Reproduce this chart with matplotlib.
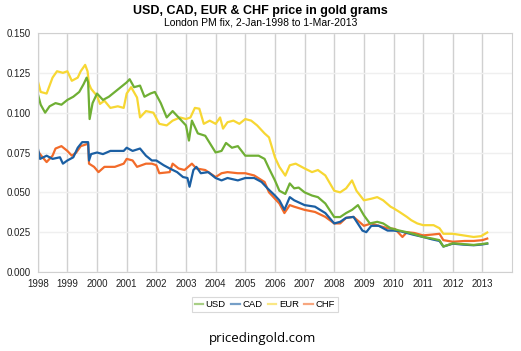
import matplotlib.pyplot as plt

plt.rcParams['font.family'] = ['Liberation Sans', 'DejaVu Sans']

# values (decimal year, grams of gold per unit)
usd_years = [1998.00, 1998.10, 1998.25, 1998.40, 1998.60, 1998.80, 1999.00, 1999.20, 1999.40, 1999.55,
             1999.65, 1999.70, 1999.75, 1999.85, 2000.00, 2000.20, 2000.40, 2000.60, 2000.80, 2001.00,
             2001.10, 2001.25, 2001.45, 2001.60, 2001.80, 2001.95, 2002.15, 2002.35, 2002.55, 2002.80,
             2003.00, 2003.10, 2003.20, 2003.40, 2003.65, 2003.80, 2004.00, 2004.20, 2004.35, 2004.55,
             2004.75, 2005.00, 2005.20, 2005.45, 2005.65, 2005.80, 2006.00, 2006.15, 2006.35, 2006.50,
             2006.65, 2006.80, 2007.00, 2007.25, 2007.45, 2007.70, 2008.00, 2008.20, 2008.40, 2008.60,
             2008.80, 2009.00, 2009.20, 2009.45, 2009.65, 2009.90, 2010.20, 2010.45, 2010.65, 2011.00,
             2011.30, 2011.55, 2011.68, 2012.00, 2012.35, 2012.70, 2012.95, 2013.16]
usd = [0.112, 0.105, 0.100, 0.104, 0.106, 0.105, 0.108, 0.110, 0.113, 0.118,
       0.122, 0.119, 0.096, 0.106, 0.112, 0.108, 0.110, 0.113, 0.116, 0.119,
       0.121, 0.116, 0.117, 0.110, 0.112, 0.113, 0.106, 0.097, 0.101, 0.096,
       0.092, 0.0825, 0.095, 0.087, 0.0855, 0.081, 0.075, 0.076, 0.081, 0.078,
       0.079, 0.073, 0.073, 0.073, 0.071, 0.065, 0.0575, 0.051, 0.049, 0.0556,
       0.0525, 0.053, 0.050, 0.048, 0.047, 0.043, 0.0345, 0.0345, 0.037, 0.039,
       0.042, 0.0356, 0.0305, 0.0315, 0.0305, 0.0275, 0.026, 0.025, 0.024, 0.022,
       0.021, 0.020, 0.016, 0.018, 0.0175, 0.017, 0.0175, 0.018]

cad_years = [1998.00, 1998.08, 1998.30, 1998.50, 1998.75, 1998.85, 1999.00, 1999.20, 1999.35, 1999.50,
             1999.70, 1999.73, 1999.80, 2000.00, 2000.20, 2000.45, 2000.70, 2000.90, 2001.00, 2001.20,
             2001.45, 2001.65, 2001.85, 2002.00, 2002.25, 2002.45, 2002.70, 2002.90, 2003.05, 2003.12,
             2003.25, 2003.35, 2003.50, 2003.75, 2004.00, 2004.20, 2004.40, 2004.75, 2005.00, 2005.30,
             2005.55, 2005.75, 2006.00, 2006.15, 2006.32, 2006.50, 2006.65, 2007.00, 2007.35, 2007.70,
             2008.00, 2008.20, 2008.40, 2008.65, 2008.95, 2009.08, 2009.25, 2009.50, 2009.80, 2010.00,
             2010.25, 2010.45, 2010.65, 2011.00, 2011.30, 2011.55, 2011.68, 2012.00, 2012.35, 2012.70,
             2012.95, 2013.16]
cad = [0.078, 0.071, 0.073, 0.071, 0.072, 0.068, 0.070, 0.072, 0.078, 0.0815,
       0.0815, 0.070, 0.074, 0.075, 0.074, 0.076, 0.076, 0.076, 0.078, 0.076,
       0.0775, 0.073, 0.070, 0.070, 0.067, 0.065, 0.0627, 0.0596, 0.059, 0.0535,
       0.064, 0.066, 0.062, 0.0627, 0.059, 0.0575, 0.059, 0.0575, 0.059, 0.059,
       0.0565, 0.0525, 0.048, 0.045, 0.039, 0.047, 0.045, 0.042, 0.041, 0.037,
       0.0305, 0.0315, 0.034, 0.0346, 0.026, 0.025, 0.029, 0.029, 0.026, 0.026,
       0.0255, 0.0245, 0.0235, 0.022, 0.0205, 0.0195, 0.016, 0.0178, 0.0172, 0.0168,
       0.0172, 0.0178]

eur_years = [1998.00, 1998.10, 1998.30, 1998.50, 1998.65, 1998.85, 1999.00, 1999.15, 1999.35, 1999.45,
             1999.60, 1999.68, 1999.73, 1999.80, 2000.00, 2000.10, 2000.25, 2000.45, 2000.70, 2000.90,
             2001.00, 2001.15, 2001.35, 2001.45, 2001.65, 2001.90, 2002.10, 2002.35, 2002.55, 2002.80,
             2003.00, 2003.15, 2003.30, 2003.45, 2003.60, 2003.80, 2004.00, 2004.15, 2004.25, 2004.40,
             2004.60, 2004.80, 2005.00, 2005.20, 2005.40, 2005.65, 2005.80, 2006.00, 2006.15, 2006.35,
             2006.50, 2006.70, 2007.00, 2007.25, 2007.45, 2007.70, 2008.00, 2008.20, 2008.40, 2008.60,
             2008.75, 2009.00, 2009.25, 2009.45, 2009.65, 2009.90, 2010.00, 2010.20, 2010.45, 2010.60,
             2010.80, 2011.00, 2011.35, 2011.55, 2011.68, 2012.00, 2012.35, 2012.70, 2012.95, 2013.16]
eur = [0.120, 0.113, 0.112, 0.122, 0.126, 0.125, 0.126, 0.120, 0.122, 0.126,
       0.130, 0.126, 0.118, 0.115, 0.1105, 0.1055, 0.1075, 0.103, 0.104, 0.103,
       0.112, 0.116, 0.1095, 0.097, 0.101, 0.100, 0.093, 0.092, 0.095, 0.097,
       0.096, 0.097, 0.103, 0.1025, 0.093, 0.095, 0.093, 0.097, 0.090, 0.094,
       0.095, 0.093, 0.096, 0.095, 0.092, 0.087, 0.0845, 0.072, 0.066, 0.0605,
       0.067, 0.068, 0.065, 0.0627, 0.064, 0.0606, 0.051, 0.050, 0.0525, 0.0575,
       0.051, 0.045, 0.046, 0.047, 0.045, 0.041, 0.040, 0.0377, 0.0346, 0.0325,
       0.0305, 0.0294, 0.0294, 0.0275, 0.024, 0.024, 0.023, 0.022, 0.0225, 0.0248]

chf_years = [1998.00, 1998.12, 1998.30, 1998.50, 1998.60, 1998.80, 1999.00, 1999.15, 1999.30, 1999.45,
             1999.70, 1999.73, 1999.90, 2000.05, 2000.25, 2000.60, 2000.90, 2001.00, 2001.20, 2001.35,
             2001.65, 2001.85, 2002.00, 2002.10, 2002.45, 2002.55, 2002.75, 2002.95, 2003.20, 2003.35,
             2003.65, 2004.00, 2004.20, 2004.40, 2004.75, 2005.00, 2005.30, 2005.65, 2005.80, 2006.00,
             2006.15, 2006.32, 2006.50, 2006.65, 2007.00, 2007.35, 2007.70, 2008.00, 2008.20, 2008.40,
             2008.65, 2009.00, 2009.25, 2009.50, 2009.80, 2010.05, 2010.30, 2010.45, 2010.70, 2011.00,
             2011.30, 2011.55, 2011.68, 2012.00, 2012.40, 2012.70, 2013.00, 2013.16]
chf = [0.076, 0.073, 0.069, 0.073, 0.0775, 0.079, 0.076, 0.073, 0.075, 0.079,
       0.0805, 0.068, 0.066, 0.0627, 0.066, 0.066, 0.068, 0.071, 0.070, 0.066,
       0.068, 0.068, 0.067, 0.062, 0.0627, 0.068, 0.065, 0.064, 0.068, 0.065,
       0.064, 0.0596, 0.062, 0.0627, 0.062, 0.062, 0.0606, 0.0565, 0.050, 0.046,
       0.043, 0.037, 0.042, 0.041, 0.039, 0.0377, 0.0346, 0.0305, 0.0305, 0.034,
       0.0346, 0.029, 0.0305, 0.029, 0.0275, 0.027, 0.022, 0.025, 0.0245, 0.023,
       0.0235, 0.024, 0.020, 0.019, 0.0195, 0.0195, 0.020, 0.021]

year_ticks = list(range(1998, 2014))
y_ticks = [0.000, 0.025, 0.050, 0.075, 0.100, 0.125, 0.150]

fig = plt.figure(figsize=(5.21, 3.51), dpi=100)
ax = fig.add_axes([0.0724, 0.225, 0.9106, 0.681])

ax.plot(chf_years, chf, color='#f26b2a', lw=1.6, label='CHF')
ax.plot(cad_years, cad, color='#1b5fa3', lw=1.6, label='CAD')
ax.plot(eur_years, eur, color='#f7d733', lw=1.6, label='EUR')
ax.plot(usd_years, usd, color='#6faf34', lw=1.6, label='USD')

ax.set_xlim(1998, 2014)
ax.set_ylim(0, 0.15)
ax.set_xticks(year_ticks)
ax.set_xticklabels([str(y) for y in year_ticks])
ax.set_yticks(y_ticks)
ax.set_yticklabels(['%.3f' % v for v in y_ticks])
ax.tick_params(labelsize=7, length=0, pad=5, colors='#222222')

ax.grid(axis='x', color='#d0d0d0', lw=1)
ax.grid(axis='y', color='#efefef', lw=1)
ax.set_axisbelow(True)
for s in ax.spines.values():
    s.set_color('#d0d0d0')

fig.text(0.5, 0.968, 'USD, CAD, EUR & CHF price in gold grams', ha='center', va='center',
         fontsize=9, fontweight='bold')
fig.text(0.5, 0.935, 'London PM fix, 2-Jan-1998 to 1-Mar-2013', ha='center', va='center',
         fontsize=7.5)

handles, labels = ax.get_legend_handles_labels()
order = [3, 1, 2, 0]
leg = fig.legend([handles[i] for i in order], [labels[i] for i in order],
                 loc='center', bbox_to_anchor=(0.508, 0.132), ncol=4, fontsize=6.8,
                 frameon=True, fancybox=False, handlelength=0.9, handletextpad=0.25,
                 columnspacing=0.6, borderpad=0.3)
leg.get_frame().set_edgecolor('#d0d0d0')
leg.get_frame().set_linewidth(0.8)
for line in leg.get_lines():
    line.set_alpha(0.6)

fig.text(0.503, 0.035, 'pricedingold.com', ha='center', va='center', fontsize=9.5,
         family=['Open Sans', 'DejaVu Sans'])

plt.savefig('out.png', dpi=100)
plt.close()
